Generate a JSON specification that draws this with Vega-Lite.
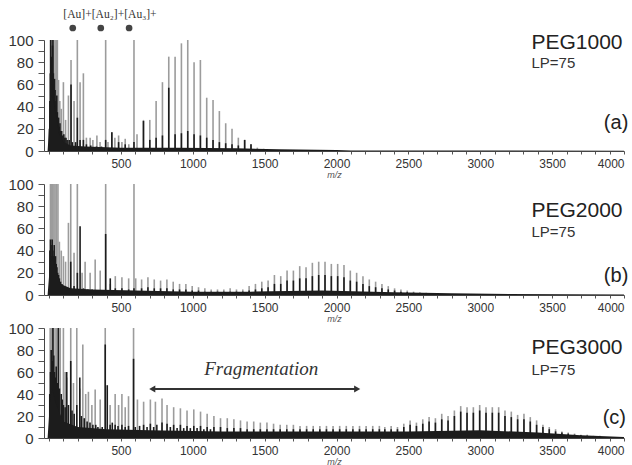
{
"$schema": "https://vega.github.io/schema/vega-lite/v6.json",
"padding": {"left": 7, "top": 9, "right": 0, "bottom": 0},
"spacing": 33,
"bounds": "flush",
"config": {"view": {"stroke": null}, "font": "Liberation Sans", "axis": {"grid": false, "domainColor": "#444", "tickColor": "#555", "labelColor": "#333", "labelFont": "Liberation Sans", "titleFont": "Liberation Sans"}},
"datasets": {
"peaks": [
{"p":"a","mz":10,"i":100,"s":"g"},{"p":"a","mz":18,"i":100,"s":"g"},{"p":"a","mz":25,"i":100,"s":"g"},{"p":"a","mz":33,"i":100,"s":"g"},{"p":"a","mz":42,"i":100,"s":"g"},{"p":"a","mz":50,"i":100,"s":"g"},{"p":"a","mz":58,"i":100,"s":"g"},{"p":"a","mz":66,"i":64,"s":"g"},{"p":"a","mz":75,"i":45,"s":"g"},{"p":"a","mz":85,"i":38,"s":"g"},{"p":"a","mz":100,"i":62,"s":"g"},{"p":"a","mz":115,"i":28,"s":"g"},{"p":"a","mz":135,"i":50,"s":"g"},{"p":"a","mz":153,"i":82,"s":"g"},{"p":"a","mz":174,"i":45,"s":"g"},{"p":"a","mz":197,"i":100,"s":"g"},{"p":"a","mz":216,"i":62,"s":"g"},{"p":"a","mz":239,"i":70,"s":"g"},{"p":"a","mz":260,"i":12,"s":"g"},{"p":"a","mz":286,"i":12,"s":"g"},{"p":"a","mz":305,"i":10,"s":"g"},{"p":"a","mz":333,"i":14,"s":"g"},{"p":"a","mz":355,"i":8,"s":"g"},{"p":"a","mz":394,"i":100,"s":"g"},{"p":"a","mz":410,"i":8,"s":"g"},{"p":"a","mz":437,"i":17,"s":"g"},{"p":"a","mz":458,"i":12,"s":"g"},{"p":"a","mz":484,"i":14,"s":"g"},{"p":"a","mz":507,"i":8,"s":"g"},{"p":"a","mz":530,"i":11,"s":"g"},{"p":"a","mz":555,"i":6,"s":"g"},{"p":"a","mz":591,"i":100,"s":"g"},{"p":"a","mz":612,"i":15,"s":"g"},{"p":"a","mz":657,"i":28,"s":"g"},{"p":"a","mz":701,"i":28,"s":"g"},{"p":"a","mz":745,"i":45,"s":"g"},{"p":"a","mz":789,"i":62,"s":"g"},{"p":"a","mz":833,"i":85,"s":"g"},{"p":"a","mz":877,"i":85,"s":"g"},{"p":"a","mz":921,"i":97,"s":"g"},{"p":"a","mz":965,"i":100,"s":"g"},{"p":"a","mz":1009,"i":80,"s":"g"},{"p":"a","mz":1053,"i":82,"s":"g"},{"p":"a","mz":1097,"i":48,"s":"g"},{"p":"a","mz":1141,"i":46,"s":"g"},{"p":"a","mz":1185,"i":36,"s":"g"},{"p":"a","mz":1229,"i":25,"s":"g"},{"p":"a","mz":1273,"i":20,"s":"g"},{"p":"a","mz":1317,"i":12,"s":"g"},{"p":"a","mz":1361,"i":10,"s":"g"},{"p":"a","mz":1405,"i":6,"s":"g"},{"p":"a","mz":1449,"i":3,"s":"g"},{"p":"a","mz":1493,"i":2,"s":"g"},
{"p":"a","mz":3,"i":20,"s":"k"},{"p":"a","mz":6,"i":45,"s":"k"},{"p":"a","mz":9,"i":70,"s":"k"},{"p":"a","mz":12,"i":100,"s":"k"},{"p":"a","mz":15,"i":85,"s":"k"},{"p":"a","mz":18,"i":60,"s":"k"},{"p":"a","mz":21,"i":75,"s":"k"},{"p":"a","mz":24,"i":95,"s":"k"},{"p":"a","mz":27,"i":100,"s":"k"},{"p":"a","mz":30,"i":70,"s":"k"},{"p":"a","mz":34,"i":60,"s":"k"},{"p":"a","mz":38,"i":65,"s":"k"},{"p":"a","mz":42,"i":55,"s":"k"},{"p":"a","mz":46,"i":45,"s":"k"},{"p":"a","mz":50,"i":42,"s":"k"},{"p":"a","mz":54,"i":50,"s":"k"},{"p":"a","mz":58,"i":35,"s":"k"},{"p":"a","mz":62,"i":30,"s":"k"},{"p":"a","mz":66,"i":30,"s":"k"},{"p":"a","mz":71,"i":22,"s":"k"},{"p":"a","mz":76,"i":25,"s":"k"},{"p":"a","mz":82,"i":18,"s":"k"},{"p":"a","mz":88,"i":18,"s":"k"},{"p":"a","mz":95,"i":14,"s":"k"},{"p":"a","mz":103,"i":15,"s":"k"},{"p":"a","mz":110,"i":12,"s":"k"},{"p":"a","mz":118,"i":12,"s":"k"},{"p":"a","mz":126,"i":10,"s":"k"},{"p":"a","mz":140,"i":10,"s":"k"},{"p":"a","mz":153,"i":60,"s":"k"},{"p":"a","mz":162,"i":8,"s":"k"},{"p":"a","mz":185,"i":8,"s":"k"},{"p":"a","mz":197,"i":30,"s":"k"},{"p":"a","mz":216,"i":10,"s":"k"},{"p":"a","mz":239,"i":10,"s":"k"},{"p":"a","mz":260,"i":6,"s":"k"},{"p":"a","mz":290,"i":5,"s":"k"},{"p":"a","mz":330,"i":4,"s":"k"},{"p":"a","mz":365,"i":4,"s":"k"},{"p":"a","mz":394,"i":10,"s":"k"},{"p":"a","mz":437,"i":17,"s":"k"},{"p":"a","mz":484,"i":8,"s":"k"},{"p":"a","mz":530,"i":6,"s":"k"},{"p":"a","mz":591,"i":8,"s":"k"},{"p":"a","mz":657,"i":27,"s":"k"},{"p":"a","mz":701,"i":10,"s":"k"},{"p":"a","mz":745,"i":12,"s":"k"},{"p":"a","mz":789,"i":14,"s":"k"},{"p":"a","mz":833,"i":57,"s":"k"},{"p":"a","mz":877,"i":15,"s":"k"},{"p":"a","mz":921,"i":16,"s":"k"},{"p":"a","mz":965,"i":18,"s":"k"},{"p":"a","mz":1009,"i":15,"s":"k"},{"p":"a","mz":1053,"i":14,"s":"k"},{"p":"a","mz":1097,"i":12,"s":"k"},{"p":"a","mz":1141,"i":10,"s":"k"},{"p":"a","mz":1185,"i":8,"s":"k"},{"p":"a","mz":1229,"i":7,"s":"k"},{"p":"a","mz":1273,"i":6,"s":"k"},{"p":"a","mz":1317,"i":5,"s":"k"},{"p":"a","mz":1361,"i":10,"s":"k"},{"p":"a","mz":1405,"i":6,"s":"k"},

{"p":"b","mz":10,"i":100,"s":"g"},{"p":"b","mz":18,"i":100,"s":"g"},{"p":"b","mz":26,"i":100,"s":"g"},{"p":"b","mz":34,"i":100,"s":"g"},{"p":"b","mz":42,"i":100,"s":"g"},{"p":"b","mz":52,"i":100,"s":"g"},{"p":"b","mz":62,"i":100,"s":"g"},{"p":"b","mz":72,"i":48,"s":"g"},{"p":"b","mz":85,"i":40,"s":"g"},{"p":"b","mz":100,"i":35,"s":"g"},{"p":"b","mz":115,"i":30,"s":"g"},{"p":"b","mz":135,"i":65,"s":"g"},{"p":"b","mz":151,"i":100,"s":"g"},{"p":"b","mz":174,"i":38,"s":"g"},{"p":"b","mz":197,"i":100,"s":"g"},{"p":"b","mz":230,"i":20,"s":"g"},{"p":"b","mz":251,"i":30,"s":"g"},{"p":"b","mz":286,"i":20,"s":"g"},{"p":"b","mz":321,"i":32,"s":"g"},{"p":"b","mz":356,"i":22,"s":"g"},{"p":"b","mz":394,"i":100,"s":"g"},{"p":"b","mz":426,"i":10,"s":"g"},{"p":"b","mz":461,"i":17,"s":"g"},{"p":"b","mz":507,"i":16,"s":"g"},{"p":"b","mz":554,"i":15,"s":"g"},{"p":"b","mz":591,"i":100,"s":"g"},{"p":"b","mz":603,"i":15,"s":"g"},{"p":"b","mz":644,"i":14,"s":"g"},{"p":"b","mz":688,"i":16,"s":"g"},{"p":"b","mz":732,"i":14,"s":"g"},{"p":"b","mz":776,"i":13,"s":"g"},{"p":"b","mz":820,"i":14,"s":"g"},{"p":"b","mz":864,"i":12,"s":"g"},{"p":"b","mz":908,"i":10,"s":"g"},{"p":"b","mz":952,"i":10,"s":"g"},{"p":"b","mz":996,"i":8,"s":"g"},{"p":"b","mz":1040,"i":7,"s":"g"},{"p":"b","mz":1084,"i":6,"s":"g"},{"p":"b","mz":1128,"i":5,"s":"g"},{"p":"b","mz":1172,"i":5,"s":"g"},{"p":"b","mz":1216,"i":5,"s":"g"},{"p":"b","mz":1260,"i":6,"s":"g"},{"p":"b","mz":1304,"i":5,"s":"g"},{"p":"b","mz":1348,"i":5,"s":"g"},{"p":"b","mz":1392,"i":8,"s":"g"},{"p":"b","mz":1436,"i":10,"s":"g"},{"p":"b","mz":1480,"i":12,"s":"g"},{"p":"b","mz":1524,"i":13,"s":"g"},{"p":"b","mz":1568,"i":18,"s":"g"},{"p":"b","mz":1612,"i":17,"s":"g"},{"p":"b","mz":1656,"i":22,"s":"g"},{"p":"b","mz":1700,"i":22,"s":"g"},{"p":"b","mz":1744,"i":26,"s":"g"},{"p":"b","mz":1788,"i":25,"s":"g"},{"p":"b","mz":1832,"i":29,"s":"g"},{"p":"b","mz":1876,"i":30,"s":"g"},{"p":"b","mz":1920,"i":30,"s":"g"},{"p":"b","mz":1964,"i":28,"s":"g"},{"p":"b","mz":2008,"i":28,"s":"g"},{"p":"b","mz":2052,"i":27,"s":"g"},{"p":"b","mz":2096,"i":22,"s":"g"},{"p":"b","mz":2140,"i":20,"s":"g"},{"p":"b","mz":2184,"i":17,"s":"g"},{"p":"b","mz":2228,"i":14,"s":"g"},{"p":"b","mz":2272,"i":12,"s":"g"},{"p":"b","mz":2316,"i":10,"s":"g"},{"p":"b","mz":2360,"i":8,"s":"g"},{"p":"b","mz":2404,"i":6,"s":"g"},{"p":"b","mz":2448,"i":5,"s":"g"},{"p":"b","mz":2492,"i":4,"s":"g"},{"p":"b","mz":2536,"i":3,"s":"g"},{"p":"b","mz":2580,"i":2.5,"s":"g"},{"p":"b","mz":2624,"i":2,"s":"g"},{"p":"b","mz":2668,"i":1.5,"s":"g"},{"p":"b","mz":2712,"i":1,"s":"g"},
{"p":"b","mz":6,"i":40,"s":"k"},{"p":"b","mz":10,"i":50,"s":"k"},{"p":"b","mz":14,"i":45,"s":"k"},{"p":"b","mz":18,"i":35,"s":"k"},{"p":"b","mz":22,"i":50,"s":"k"},{"p":"b","mz":27,"i":40,"s":"k"},{"p":"b","mz":31,"i":35,"s":"k"},{"p":"b","mz":36,"i":45,"s":"k"},{"p":"b","mz":40,"i":30,"s":"k"},{"p":"b","mz":45,"i":35,"s":"k"},{"p":"b","mz":50,"i":28,"s":"k"},{"p":"b","mz":55,"i":25,"s":"k"},{"p":"b","mz":60,"i":20,"s":"k"},{"p":"b","mz":66,"i":18,"s":"k"},{"p":"b","mz":72,"i":15,"s":"k"},{"p":"b","mz":80,"i":12,"s":"k"},{"p":"b","mz":90,"i":10,"s":"k"},{"p":"b","mz":100,"i":8,"s":"k"},{"p":"b","mz":120,"i":6,"s":"k"},{"p":"b","mz":151,"i":30,"s":"k"},{"p":"b","mz":174,"i":8,"s":"k"},{"p":"b","mz":197,"i":20,"s":"k"},{"p":"b","mz":216,"i":62,"s":"k"},{"p":"b","mz":240,"i":6,"s":"k"},{"p":"b","mz":270,"i":5,"s":"k"},{"p":"b","mz":300,"i":5,"s":"k"},{"p":"b","mz":340,"i":4,"s":"k"},{"p":"b","mz":394,"i":55,"s":"k"},{"p":"b","mz":426,"i":15,"s":"k"},{"p":"b","mz":461,"i":6,"s":"k"},{"p":"b","mz":507,"i":6,"s":"k"},{"p":"b","mz":554,"i":5,"s":"k"},{"p":"b","mz":591,"i":6,"s":"k"},{"p":"b","mz":644,"i":6,"s":"k"},{"p":"b","mz":688,"i":7,"s":"k"},{"p":"b","mz":732,"i":6,"s":"k"},{"p":"b","mz":776,"i":6,"s":"k"},{"p":"b","mz":820,"i":6,"s":"k"},{"p":"b","mz":864,"i":5,"s":"k"},{"p":"b","mz":908,"i":5,"s":"k"},{"p":"b","mz":952,"i":5,"s":"k"},{"p":"b","mz":996,"i":4,"s":"k"},{"p":"b","mz":1040,"i":4,"s":"k"},{"p":"b","mz":1084,"i":3,"s":"k"},{"p":"b","mz":1128,"i":3,"s":"k"},{"p":"b","mz":1172,"i":3,"s":"k"},{"p":"b","mz":1216,"i":3,"s":"k"},{"p":"b","mz":1260,"i":3,"s":"k"},{"p":"b","mz":1304,"i":3,"s":"k"},{"p":"b","mz":1348,"i":3,"s":"k"},{"p":"b","mz":1392,"i":4,"s":"k"},{"p":"b","mz":1436,"i":5,"s":"k"},{"p":"b","mz":1480,"i":6,"s":"k"},{"p":"b","mz":1524,"i":7,"s":"k"},{"p":"b","mz":1568,"i":10,"s":"k"},{"p":"b","mz":1612,"i":10,"s":"k"},{"p":"b","mz":1656,"i":13,"s":"k"},{"p":"b","mz":1700,"i":13,"s":"k"},{"p":"b","mz":1744,"i":15,"s":"k"},{"p":"b","mz":1788,"i":15,"s":"k"},{"p":"b","mz":1832,"i":17,"s":"k"},{"p":"b","mz":1876,"i":18,"s":"k"},{"p":"b","mz":1920,"i":18,"s":"k"},{"p":"b","mz":1964,"i":17,"s":"k"},{"p":"b","mz":2008,"i":17,"s":"k"},{"p":"b","mz":2052,"i":16,"s":"k"},{"p":"b","mz":2096,"i":13,"s":"k"},{"p":"b","mz":2140,"i":12,"s":"k"},{"p":"b","mz":2184,"i":10,"s":"k"},{"p":"b","mz":2228,"i":8,"s":"k"},{"p":"b","mz":2272,"i":7,"s":"k"},{"p":"b","mz":2316,"i":6,"s":"k"},{"p":"b","mz":2360,"i":5,"s":"k"},{"p":"b","mz":2404,"i":4,"s":"k"},{"p":"b","mz":2448,"i":3,"s":"k"},{"p":"b","mz":2492,"i":2.5,"s":"k"},{"p":"b","mz":2536,"i":2,"s":"k"},

{"p":"c","mz":8,"i":100,"s":"g"},{"p":"c","mz":19,"i":100,"s":"g"},{"p":"c","mz":30,"i":100,"s":"g"},{"p":"c","mz":42,"i":100,"s":"g"},{"p":"c","mz":54,"i":100,"s":"g"},{"p":"c","mz":65,"i":100,"s":"g"},{"p":"c","mz":78,"i":100,"s":"g"},{"p":"c","mz":100,"i":100,"s":"g"},{"p":"c","mz":112,"i":60,"s":"g"},{"p":"c","mz":123,"i":55,"s":"g"},{"p":"c","mz":151,"i":100,"s":"g"},{"p":"c","mz":170,"i":50,"s":"g"},{"p":"c","mz":193,"i":100,"s":"g"},{"p":"c","mz":214,"i":45,"s":"g"},{"p":"c","mz":235,"i":85,"s":"g"},{"p":"c","mz":255,"i":40,"s":"g"},{"p":"c","mz":274,"i":42,"s":"g"},{"p":"c","mz":298,"i":30,"s":"g"},{"p":"c","mz":321,"i":44,"s":"g"},{"p":"c","mz":356,"i":35,"s":"g"},{"p":"c","mz":391,"i":100,"s":"g"},{"p":"c","mz":425,"i":30,"s":"g"},{"p":"c","mz":460,"i":40,"s":"g"},{"p":"c","mz":484,"i":30,"s":"g"},{"p":"c","mz":507,"i":40,"s":"g"},{"p":"c","mz":530,"i":28,"s":"g"},{"p":"c","mz":553,"i":38,"s":"g"},{"p":"c","mz":588,"i":100,"s":"g"},{"p":"c","mz":615,"i":35,"s":"g"},{"p":"c","mz":658,"i":33,"s":"g"},{"p":"c","mz":705,"i":35,"s":"g"},{"p":"c","mz":740,"i":33,"s":"g"},{"p":"c","mz":786,"i":36,"s":"g"},{"p":"c","mz":821,"i":30,"s":"g"},{"p":"c","mz":867,"i":28,"s":"g"},{"p":"c","mz":914,"i":27,"s":"g"},{"p":"c","mz":960,"i":25,"s":"g"},{"p":"c","mz":1007,"i":26,"s":"g"},{"p":"c","mz":1054,"i":24,"s":"g"},{"p":"c","mz":1100,"i":22,"s":"g"},{"p":"c","mz":1147,"i":20,"s":"g"},{"p":"c","mz":1193,"i":18,"s":"g"},{"p":"c","mz":1240,"i":18,"s":"g"},{"p":"c","mz":1286,"i":17,"s":"g"},{"p":"c","mz":1332,"i":16,"s":"g"},{"p":"c","mz":1378,"i":15,"s":"g"},{"p":"c","mz":1424,"i":15,"s":"g"},{"p":"c","mz":1470,"i":14,"s":"g"},{"p":"c","mz":1516,"i":14,"s":"g"},{"p":"c","mz":1562,"i":13,"s":"g"},{"p":"c","mz":1608,"i":12,"s":"g"},{"p":"c","mz":1654,"i":12,"s":"g"},{"p":"c","mz":1700,"i":12,"s":"g"},{"p":"c","mz":1746,"i":11,"s":"g"},{"p":"c","mz":1792,"i":11,"s":"g"},{"p":"c","mz":1838,"i":11,"s":"g"},{"p":"c","mz":1884,"i":11,"s":"g"},{"p":"c","mz":1930,"i":11,"s":"g"},{"p":"c","mz":1976,"i":11,"s":"g"},{"p":"c","mz":2022,"i":11,"s":"g"},{"p":"c","mz":2068,"i":11,"s":"g"},{"p":"c","mz":2114,"i":11,"s":"g"},{"p":"c","mz":2160,"i":11,"s":"g"},{"p":"c","mz":2206,"i":11,"s":"g"},{"p":"c","mz":2252,"i":11,"s":"g"},{"p":"c","mz":2298,"i":11,"s":"g"},{"p":"c","mz":2336,"i":10,"s":"g"},{"p":"c","mz":2380,"i":11,"s":"g"},{"p":"c","mz":2424,"i":10,"s":"g"},{"p":"c","mz":2468,"i":13,"s":"g"},{"p":"c","mz":2512,"i":16,"s":"g"},{"p":"c","mz":2556,"i":14,"s":"g"},{"p":"c","mz":2600,"i":17,"s":"g"},{"p":"c","mz":2644,"i":19,"s":"g"},{"p":"c","mz":2688,"i":18,"s":"g"},{"p":"c","mz":2732,"i":22,"s":"g"},{"p":"c","mz":2776,"i":20,"s":"g"},{"p":"c","mz":2820,"i":25,"s":"g"},{"p":"c","mz":2864,"i":29,"s":"g"},{"p":"c","mz":2908,"i":28,"s":"g"},{"p":"c","mz":2952,"i":28,"s":"g"},{"p":"c","mz":2996,"i":30,"s":"g"},{"p":"c","mz":3040,"i":28,"s":"g"},{"p":"c","mz":3084,"i":28,"s":"g"},{"p":"c","mz":3128,"i":28,"s":"g"},{"p":"c","mz":3172,"i":25,"s":"g"},{"p":"c","mz":3216,"i":24,"s":"g"},{"p":"c","mz":3260,"i":21,"s":"g"},{"p":"c","mz":3304,"i":22,"s":"g"},{"p":"c","mz":3348,"i":19,"s":"g"},{"p":"c","mz":3392,"i":16,"s":"g"},{"p":"c","mz":3436,"i":12,"s":"g"},{"p":"c","mz":3480,"i":10,"s":"g"},{"p":"c","mz":3524,"i":8,"s":"g"},{"p":"c","mz":3568,"i":6,"s":"g"},{"p":"c","mz":3612,"i":5,"s":"g"},{"p":"c","mz":3656,"i":4,"s":"g"},{"p":"c","mz":3700,"i":3,"s":"g"},{"p":"c","mz":3744,"i":3,"s":"g"},{"p":"c","mz":3788,"i":2,"s":"g"},{"p":"c","mz":3832,"i":2,"s":"g"},
{"p":"c","mz":5,"i":40,"s":"k"},{"p":"c","mz":10,"i":60,"s":"k"},{"p":"c","mz":15,"i":80,"s":"k"},{"p":"c","mz":22,"i":70,"s":"k"},{"p":"c","mz":27,"i":100,"s":"k"},{"p":"c","mz":33,"i":75,"s":"k"},{"p":"c","mz":38,"i":60,"s":"k"},{"p":"c","mz":45,"i":55,"s":"k"},{"p":"c","mz":50,"i":65,"s":"k"},{"p":"c","mz":58,"i":50,"s":"k"},{"p":"c","mz":65,"i":100,"s":"k"},{"p":"c","mz":72,"i":45,"s":"k"},{"p":"c","mz":85,"i":40,"s":"k"},{"p":"c","mz":92,"i":35,"s":"k"},{"p":"c","mz":100,"i":30,"s":"k"},{"p":"c","mz":112,"i":28,"s":"k"},{"p":"c","mz":123,"i":60,"s":"k"},{"p":"c","mz":135,"i":30,"s":"k"},{"p":"c","mz":151,"i":70,"s":"k"},{"p":"c","mz":160,"i":25,"s":"k"},{"p":"c","mz":175,"i":22,"s":"k"},{"p":"c","mz":193,"i":30,"s":"k"},{"p":"c","mz":214,"i":55,"s":"k"},{"p":"c","mz":225,"i":20,"s":"k"},{"p":"c","mz":245,"i":18,"s":"k"},{"p":"c","mz":265,"i":15,"s":"k"},{"p":"c","mz":285,"i":14,"s":"k"},{"p":"c","mz":305,"i":12,"s":"k"},{"p":"c","mz":325,"i":12,"s":"k"},{"p":"c","mz":340,"i":10,"s":"k"},{"p":"c","mz":370,"i":10,"s":"k"},{"p":"c","mz":391,"i":85,"s":"k"},{"p":"c","mz":405,"i":48,"s":"k"},{"p":"c","mz":425,"i":12,"s":"k"},{"p":"c","mz":440,"i":14,"s":"k"},{"p":"c","mz":460,"i":12,"s":"k"},{"p":"c","mz":480,"i":11,"s":"k"},{"p":"c","mz":507,"i":12,"s":"k"},{"p":"c","mz":530,"i":10,"s":"k"},{"p":"c","mz":553,"i":11,"s":"k"},{"p":"c","mz":588,"i":72,"s":"k"},{"p":"c","mz":600,"i":10,"s":"k"},{"p":"c","mz":630,"i":11,"s":"k"},{"p":"c","mz":658,"i":12,"s":"k"},{"p":"c","mz":682,"i":10,"s":"k"},{"p":"c","mz":705,"i":13,"s":"k"},{"p":"c","mz":728,"i":10,"s":"k"},{"p":"c","mz":750,"i":12,"s":"k"},{"p":"c","mz":786,"i":14,"s":"k"},{"p":"c","mz":821,"i":13,"s":"k"},{"p":"c","mz":844,"i":10,"s":"k"},{"p":"c","mz":867,"i":12,"s":"k"},{"p":"c","mz":891,"i":9,"s":"k"},{"p":"c","mz":914,"i":12,"s":"k"},{"p":"c","mz":937,"i":9,"s":"k"},{"p":"c","mz":960,"i":11,"s":"k"},{"p":"c","mz":983,"i":9,"s":"k"},{"p":"c","mz":1007,"i":11,"s":"k"},{"p":"c","mz":1030,"i":9,"s":"k"},{"p":"c","mz":1054,"i":11,"s":"k"},{"p":"c","mz":1077,"i":8,"s":"k"},{"p":"c","mz":1100,"i":10,"s":"k"},{"p":"c","mz":1123,"i":8,"s":"k"},{"p":"c","mz":1147,"i":10,"s":"k"},{"p":"c","mz":1193,"i":10,"s":"k"},{"p":"c","mz":1240,"i":9,"s":"k"},{"p":"c","mz":1286,"i":9,"s":"k"},{"p":"c","mz":1332,"i":9,"s":"k"},{"p":"c","mz":1378,"i":8,"s":"k"},{"p":"c","mz":1424,"i":8,"s":"k"},{"p":"c","mz":1470,"i":8,"s":"k"},{"p":"c","mz":1516,"i":8,"s":"k"},{"p":"c","mz":1562,"i":8,"s":"k"},{"p":"c","mz":1608,"i":8,"s":"k"},{"p":"c","mz":1654,"i":8,"s":"k"},{"p":"c","mz":1700,"i":8,"s":"k"},{"p":"c","mz":1746,"i":8,"s":"k"},{"p":"c","mz":1792,"i":8,"s":"k"},{"p":"c","mz":1838,"i":8,"s":"k"},{"p":"c","mz":1884,"i":8,"s":"k"},{"p":"c","mz":1930,"i":8,"s":"k"},{"p":"c","mz":1976,"i":8,"s":"k"},{"p":"c","mz":2022,"i":8,"s":"k"},{"p":"c","mz":2068,"i":8,"s":"k"},{"p":"c","mz":2114,"i":8,"s":"k"},{"p":"c","mz":2160,"i":8,"s":"k"},{"p":"c","mz":2206,"i":8,"s":"k"},{"p":"c","mz":2252,"i":8,"s":"k"},{"p":"c","mz":2298,"i":8,"s":"k"},{"p":"c","mz":2336,"i":8,"s":"k"},{"p":"c","mz":2380,"i":8,"s":"k"},{"p":"c","mz":2424,"i":8,"s":"k"},{"p":"c","mz":2468,"i":10,"s":"k"},{"p":"c","mz":2512,"i":12,"s":"k"},{"p":"c","mz":2556,"i":11,"s":"k"},{"p":"c","mz":2600,"i":13,"s":"k"},{"p":"c","mz":2644,"i":15,"s":"k"},{"p":"c","mz":2688,"i":14,"s":"k"},{"p":"c","mz":2732,"i":17,"s":"k"},{"p":"c","mz":2776,"i":16,"s":"k"},{"p":"c","mz":2820,"i":20,"s":"k"},{"p":"c","mz":2864,"i":24,"s":"k"},{"p":"c","mz":2908,"i":23,"s":"k"},{"p":"c","mz":2952,"i":23,"s":"k"},{"p":"c","mz":2996,"i":25,"s":"k"},{"p":"c","mz":3040,"i":23,"s":"k"},{"p":"c","mz":3084,"i":23,"s":"k"},{"p":"c","mz":3128,"i":23,"s":"k"},{"p":"c","mz":3172,"i":20,"s":"k"},{"p":"c","mz":3216,"i":19,"s":"k"},{"p":"c","mz":3260,"i":17,"s":"k"},{"p":"c","mz":3304,"i":17,"s":"k"},{"p":"c","mz":3348,"i":15,"s":"k"},{"p":"c","mz":3392,"i":12,"s":"k"},{"p":"c","mz":3436,"i":10,"s":"k"},{"p":"c","mz":3480,"i":8,"s":"k"},{"p":"c","mz":3524,"i":6,"s":"k"},{"p":"c","mz":3568,"i":5,"s":"k"},{"p":"c","mz":3612,"i":4,"s":"k"},{"p":"c","mz":3656,"i":3,"s":"k"},{"p":"c","mz":3700,"i":2.5,"s":"k"},{"p":"c","mz":3744,"i":2,"s":"k"}
],
"base": [
{"p":"a","mz":-10,"b":0},{"p":"a","mz":5,"b":30},{"p":"a","mz":15,"b":50},{"p":"a","mz":30,"b":45},{"p":"a","mz":50,"b":30},{"p":"a","mz":70,"b":15},{"p":"a","mz":100,"b":8},{"p":"a","mz":150,"b":5},{"p":"a","mz":250,"b":4},{"p":"a","mz":500,"b":3},{"p":"a","mz":900,"b":3},{"p":"a","mz":1300,"b":2.5},{"p":"a","mz":1600,"b":1.5},{"p":"a","mz":2000,"b":1},{"p":"a","mz":2100,"b":0.5},{"p":"a","mz":4000,"b":0.3},
{"p":"b","mz":-10,"b":0},{"p":"b","mz":5,"b":25},{"p":"b","mz":20,"b":35},{"p":"b","mz":50,"b":20},{"p":"b","mz":80,"b":10},{"p":"b","mz":150,"b":6},{"p":"b","mz":300,"b":5},{"p":"b","mz":600,"b":4},{"p":"b","mz":1000,"b":3},{"p":"b","mz":1400,"b":3},{"p":"b","mz":1900,"b":4},{"p":"b","mz":2400,"b":2.5},{"p":"b","mz":2800,"b":1.5},{"p":"b","mz":3200,"b":1},{"p":"b","mz":4000,"b":0.5},
{"p":"c","mz":-10,"b":0},{"p":"c","mz":5,"b":30},{"p":"c","mz":20,"b":45},{"p":"c","mz":50,"b":30},{"p":"c","mz":100,"b":15},{"p":"c","mz":200,"b":10},{"p":"c","mz":400,"b":8},{"p":"c","mz":700,"b":7},{"p":"c","mz":1200,"b":6},{"p":"c","mz":2000,"b":6},{"p":"c","mz":2500,"b":6},{"p":"c","mz":3000,"b":7},{"p":"c","mz":3400,"b":5},{"p":"c","mz":3700,"b":2.5},{"p":"c","mz":4000,"b":1}
],
"au": [{"mz":165},{"mz":360},{"mz":557}]
},
"vconcat": [
{"width": 580, "height": 111, "resolve": {"axis": {"x": "independent", "y": "independent"}}, "layer": [
 {"data": {"name": "peaks"}, "transform": [{"filter": "datum.p == 'a'"}], "mark": {"type": "rule", "strokeWidth": 1.6},
  "encoding": {
   "x": {"field": "mz", "type": "quantitative", "scale": {"domain": [-35, 4000], "nice": false, "zero": false}, "axis": {"title": "m/z", "values": [0,100,200,300,400,500,600,700,800,900,1000,1100,1200,1300,1400,1500,1600,1700,1800,1900,2000,2100,2200,2300,2400,2500,2600,2700,2800,2900,3000,3100,3200,3300,3400,3500,3600,3700,3800,3900,4000], "format": "d", "labelExpr": "datum.value % 500 == 0 && datum.value > 0 ? datum.label : ''", "tickSize": 3, "labelFontSize": 12, "labelPadding": 4, "labelFlush": true, "labelOverlap": false, "titleFontStyle": "italic", "titleFontSize": 9, "titleFontWeight": "normal", "titlePadding": 1, "titleColor": "#555"}},
   "y": {"field": "i", "type": "quantitative", "scale": {"domain": [0, 100], "nice": false}, "axis": {"title": null, "values": [0,10,20,30,40,50,60,70,80,90,100], "labelExpr": "datum.value % 20 == 0 ? datum.label : ''", "tickSize": 6, "labelFontSize": 15, "labelPadding": 5, "labelOverlap": false}},
   "y2": {"datum": 0},
   "color": {"field": "s", "type": "nominal", "scale": {"domain": ["g", "k"], "range": ["#9c9c9c", "#1c1c1c"]}, "legend": null}
  }},
 {"data": {"name": "base"}, "transform": [{"filter": "datum.p == 'a'"}], "mark": {"type": "area", "color": "#1c1c1c"},
  "encoding": {"x": {"field": "mz", "type": "quantitative", "scale": {"domain": [-35, 4000]}, "axis": null}, "y": {"field": "b", "type": "quantitative", "scale": {"domain": [0, 100]}, "axis": null}}},
 {"data": {"name": "au"}, "mark": {"type": "point", "filled": true, "color": "#444", "size": 45, "opacity": 1},
  "encoding": {"x": {"field": "mz", "type": "quantitative", "scale": {"domain": [-35, 4000]}, "axis": null}, "y": {"datum": 110.8, "scale": {"domain": [0, 100]}, "axis": null}}},
 {"data": {"values": [{}]}, "mark": {"type": "text", "text": "[Au]+[Au₂]+[Au₃]+", "font": "Liberation Serif", "fontSize": 11.6, "color": "#333", "baseline": "middle", "align": "center"},
  "encoding": {"x": {"datum": 424, "scale": {"domain": [-35, 4000]}, "axis": null}, "y": {"datum": 122.5, "scale": {"domain": [0, 100]}, "axis": null}}},
 {"data": {"values": [{}]}, "mark": {"type": "text", "text": "PEG1000", "fontSize": 21, "color": "#222", "align": "left", "baseline": "alphabetic"},
  "encoding": {"x": {"datum": 3356, "scale": {"domain": [-35, 4000]}, "axis": null}, "y": {"datum": 92, "scale": {"domain": [0, 100]}, "axis": null}}},
 {"data": {"values": [{}]}, "mark": {"type": "text", "text": "LP=75", "fontSize": 15, "color": "#333", "align": "left", "baseline": "alphabetic"},
  "encoding": {"x": {"datum": 3356, "scale": {"domain": [-35, 4000]}, "axis": null}, "y": {"datum": 75, "scale": {"domain": [0, 100]}, "axis": null}}},
 {"data": {"values": [{}]}, "mark": {"type": "text", "text": "(a)", "fontSize": 20, "color": "#222", "align": "right", "baseline": "alphabetic"},
  "encoding": {"x": {"datum": 4030, "scale": {"domain": [-35, 4000]}, "axis": null}, "y": {"datum": 20, "scale": {"domain": [0, 100]}, "axis": null}}}
]},
{"width": 580, "height": 111, "resolve": {"axis": {"x": "independent", "y": "independent"}}, "layer": [
 {"data": {"name": "peaks"}, "transform": [{"filter": "datum.p == 'b'"}], "mark": {"type": "rule", "strokeWidth": 1.6},
  "encoding": {
   "x": {"field": "mz", "type": "quantitative", "scale": {"domain": [-35, 4000], "nice": false, "zero": false}, "axis": {"title": "m/z", "values": [0,100,200,300,400,500,600,700,800,900,1000,1100,1200,1300,1400,1500,1600,1700,1800,1900,2000,2100,2200,2300,2400,2500,2600,2700,2800,2900,3000,3100,3200,3300,3400,3500,3600,3700,3800,3900,4000], "format": "d", "labelExpr": "datum.value % 500 == 0 && datum.value > 0 ? datum.label : ''", "tickSize": 3, "labelFontSize": 12, "labelPadding": 4, "labelFlush": true, "labelOverlap": false, "titleFontStyle": "italic", "titleFontSize": 9, "titleFontWeight": "normal", "titlePadding": 1, "titleColor": "#555"}},
   "y": {"field": "i", "type": "quantitative", "scale": {"domain": [0, 100], "nice": false}, "axis": {"title": null, "values": [0,10,20,30,40,50,60,70,80,90,100], "labelExpr": "datum.value % 20 == 0 ? datum.label : ''", "tickSize": 6, "labelFontSize": 15, "labelPadding": 5, "labelOverlap": false}},
   "y2": {"datum": 0},
   "color": {"field": "s", "type": "nominal", "scale": {"domain": ["g", "k"], "range": ["#9c9c9c", "#1c1c1c"]}, "legend": null}
  }},
 {"data": {"name": "base"}, "transform": [{"filter": "datum.p == 'b'"}], "mark": {"type": "area", "color": "#1c1c1c"},
  "encoding": {"x": {"field": "mz", "type": "quantitative", "scale": {"domain": [-35, 4000]}, "axis": null}, "y": {"field": "b", "type": "quantitative", "scale": {"domain": [0, 100]}, "axis": null}}},
 {"data": {"values": [{}]}, "mark": {"type": "text", "text": "PEG2000", "fontSize": 21, "color": "#222", "align": "left", "baseline": "alphabetic"},
  "encoding": {"x": {"datum": 3356, "scale": {"domain": [-35, 4000]}, "axis": null}, "y": {"datum": 70.3, "scale": {"domain": [0, 100]}, "axis": null}}},
 {"data": {"values": [{}]}, "mark": {"type": "text", "text": "LP=75", "fontSize": 15, "color": "#333", "align": "left", "baseline": "alphabetic"},
  "encoding": {"x": {"datum": 3356, "scale": {"domain": [-35, 4000]}, "axis": null}, "y": {"datum": 52.3, "scale": {"domain": [0, 100]}, "axis": null}}},
 {"data": {"values": [{}]}, "mark": {"type": "text", "text": "(b)", "fontSize": 20, "color": "#222", "align": "right", "baseline": "alphabetic"},
  "encoding": {"x": {"datum": 4030, "scale": {"domain": [-35, 4000]}, "axis": null}, "y": {"datum": 11.7, "scale": {"domain": [0, 100]}, "axis": null}}}
]},
{"width": 580, "height": 110, "resolve": {"axis": {"x": "independent", "y": "independent"}}, "layer": [
 {"data": {"name": "peaks"}, "transform": [{"filter": "datum.p == 'c'"}], "mark": {"type": "rule", "strokeWidth": 1.6},
  "encoding": {
   "x": {"field": "mz", "type": "quantitative", "scale": {"domain": [-35, 4000], "nice": false, "zero": false}, "axis": {"title": "m/z", "values": [0,100,200,300,400,500,600,700,800,900,1000,1100,1200,1300,1400,1500,1600,1700,1800,1900,2000,2100,2200,2300,2400,2500,2600,2700,2800,2900,3000,3100,3200,3300,3400,3500,3600,3700,3800,3900,4000], "format": "d", "labelExpr": "datum.value % 500 == 0 && datum.value > 0 ? datum.label : ''", "tickSize": 3, "labelFontSize": 12, "labelPadding": 4, "labelFlush": true, "labelOverlap": false, "titleFontStyle": "italic", "titleFontSize": 9, "titleFontWeight": "normal", "titlePadding": 1, "titleColor": "#555"}},
   "y": {"field": "i", "type": "quantitative", "scale": {"domain": [0, 100], "nice": false}, "axis": {"title": null, "values": [0,10,20,30,40,50,60,70,80,90,100], "labelExpr": "datum.value % 20 == 0 ? datum.label : ''", "tickSize": 6, "labelFontSize": 15, "labelPadding": 5, "labelOverlap": false}},
   "y2": {"datum": 0},
   "color": {"field": "s", "type": "nominal", "scale": {"domain": ["g", "k"], "range": ["#9c9c9c", "#1c1c1c"]}, "legend": null}
  }},
 {"data": {"name": "base"}, "transform": [{"filter": "datum.p == 'c'"}], "mark": {"type": "area", "color": "#1c1c1c"},
  "encoding": {"x": {"field": "mz", "type": "quantitative", "scale": {"domain": [-35, 4000]}, "axis": null}, "y": {"field": "b", "type": "quantitative", "scale": {"domain": [0, 100]}, "axis": null}}},
 {"data": {"values": [{}]}, "mark": {"type": "rule", "color": "#333", "strokeWidth": 2},
  "encoding": {"x": {"datum": 720, "scale": {"domain": [-35, 4000]}, "axis": null}, "x2": {"datum": 2142}, "y": {"datum": 44.5, "scale": {"domain": [0, 100]}, "axis": null}}},
 {"data": {"values": [{}]}, "mark": {"type": "point", "shape": "triangle-left", "filled": true, "color": "#333", "size": 50, "opacity": 1},
  "encoding": {"x": {"datum": 718, "scale": {"domain": [-35, 4000]}, "axis": null}, "y": {"datum": 44.5, "scale": {"domain": [0, 100]}, "axis": null}}},
 {"data": {"values": [{}]}, "mark": {"type": "point", "shape": "triangle-right", "filled": true, "color": "#333", "size": 50, "opacity": 1},
  "encoding": {"x": {"datum": 2144, "scale": {"domain": [-35, 4000]}, "axis": null}, "y": {"datum": 44.5, "scale": {"domain": [0, 100]}, "axis": null}}},
 {"data": {"values": [{}]}, "mark": {"type": "text", "text": "Fragmentation", "font": "Liberation Serif", "fontStyle": "italic", "fontSize": 19, "color": "#333", "align": "center", "baseline": "alphabetic"},
  "encoding": {"x": {"datum": 1476, "scale": {"domain": [-35, 4000]}, "axis": null}, "y": {"datum": 57, "scale": {"domain": [0, 100]}, "axis": null}}},
 {"data": {"values": [{}]}, "mark": {"type": "text", "text": "PEG3000", "fontSize": 21, "color": "#222", "align": "left", "baseline": "alphabetic"},
  "encoding": {"x": {"datum": 3356, "scale": {"domain": [-35, 4000]}, "axis": null}, "y": {"datum": 76.4, "scale": {"domain": [0, 100]}, "axis": null}}},
 {"data": {"values": [{}]}, "mark": {"type": "text", "text": "LP=75", "fontSize": 15, "color": "#333", "align": "left", "baseline": "alphabetic"},
  "encoding": {"x": {"datum": 3356, "scale": {"domain": [-35, 4000]}, "axis": null}, "y": {"datum": 57.3, "scale": {"domain": [0, 100]}, "axis": null}}},
 {"data": {"values": [{}]}, "mark": {"type": "text", "text": "(c)", "fontSize": 20, "color": "#222", "align": "right", "baseline": "alphabetic"},
  "encoding": {"x": {"datum": 4014, "scale": {"domain": [-35, 4000]}, "axis": null}, "y": {"datum": 12.7, "scale": {"domain": [0, 100]}, "axis": null}}}
]}
]
}
